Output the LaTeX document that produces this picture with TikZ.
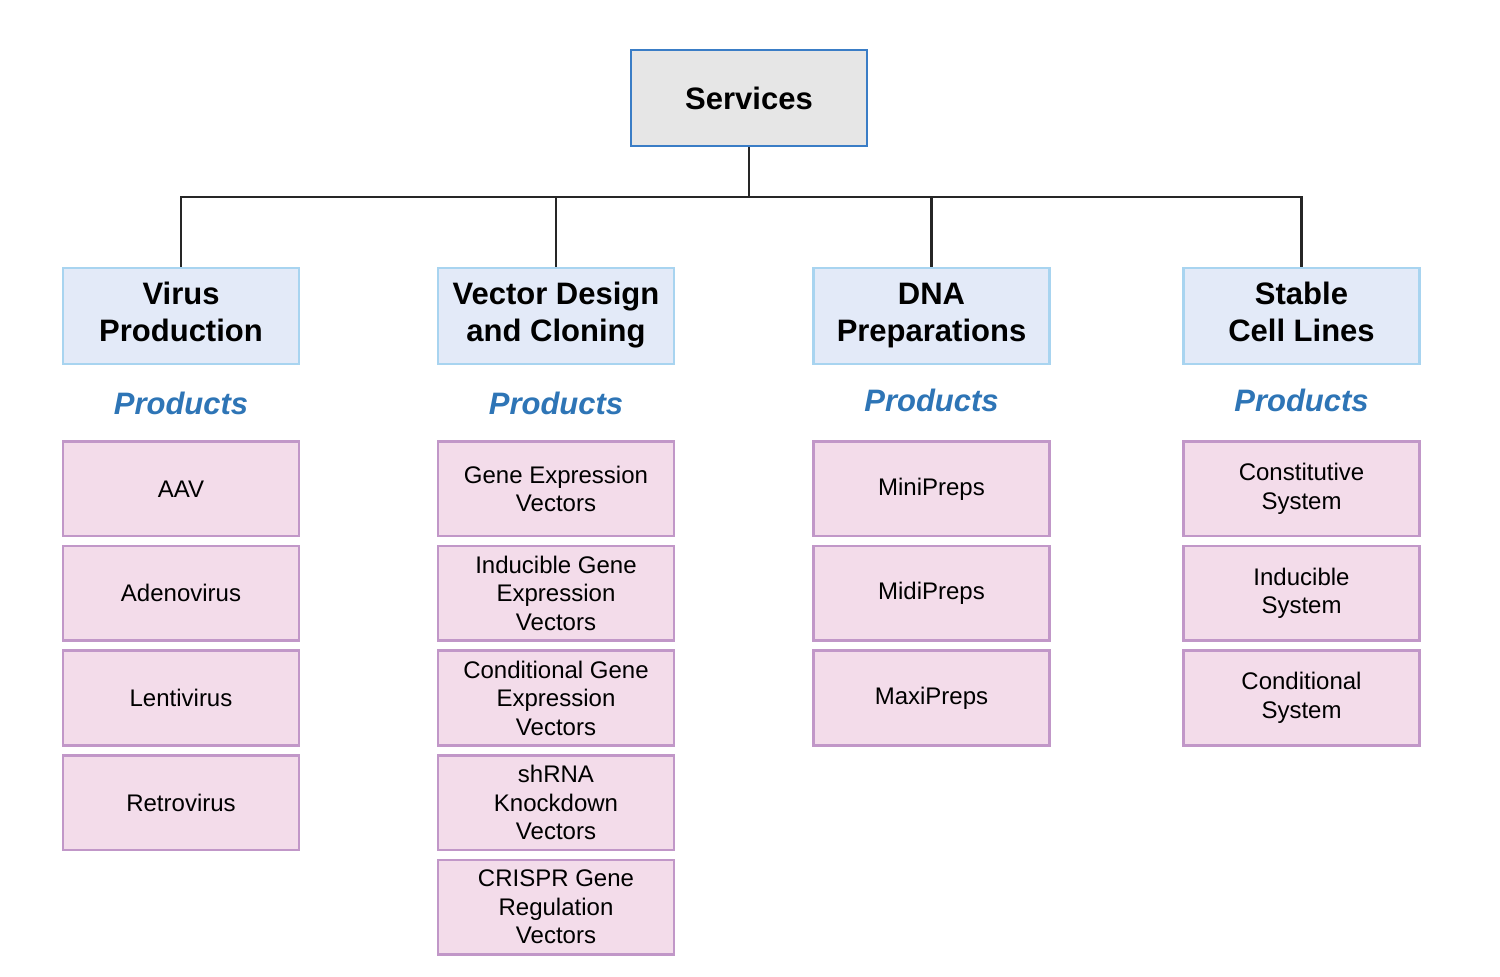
\documentclass[tikz,border=0pt]{standalone}
\usepackage{fontspec}
\setmainfont{Liberation Sans}
\usepackage{xcolor}
\usetikzlibrary{positioning}

\definecolor{srvfill}{HTML}{E6E6E6}
\definecolor{srvline}{HTML}{3A7DC6}
\definecolor{catfill}{HTML}{E3EAF8}
\definecolor{catline}{HTML}{A8D4F0}
\definecolor{itemfill}{HTML}{F3DCEA}
\definecolor{itemline}{HTML}{C197C8}
\definecolor{prodblue}{HTML}{2E75B6}

\begin{document}
\begin{tikzpicture}[
    x=1pt, y=1pt,
    node distance=7.5pt,
    top/.style={draw=srvline, fill=srvfill, line width=2.5pt, align=center, minimum width=236pt, minimum height=96pt, font=\fontsize{31}{37}\selectfont\bfseries},
    cat/.style={draw=catline, fill=catfill, line width=2.5pt, align=center, minimum width=236pt, minimum height=96pt, text depth=8pt, font=\fontsize{31}{37}\selectfont\bfseries},
    prodlabel/.style={text=prodblue, font=\fontsize{31}{37}\selectfont\bfseries\itshape},
    item/.style={draw=itemline, fill=itemfill, line width=2.5pt, align=center, minimum width=236pt, minimum height=94.6pt, font=\fontsize{24}{28.5}\selectfont},
    link/.style={draw=black!85, line width=2.8pt}
  ]
    \useasboundingbox (0,0) rectangle (1500,-977);

    \node[top] (services) at (749,-98) {Services};
    \coordinate (bus) at (749,-197);

    \node[cat] (virus) at (181,-316) {Virus\\Production};
    \node[cat] (vector) at (556,-316) {Vector Design\\and Cloning};
    \node[cat] (dna) at (931.5,-316) {DNA\\Preparations};
    \node[cat] (stable) at (1301.5,-316) {Stable\\Cell Lines};

    \node[prodlabel] (virusprod) at (181,-403) {Products};
    \node[prodlabel] (vectorprod) at (556,-403) {Products};
    \node[prodlabel] (dnaprod) at (931.5,-400) {Products};
    \node[prodlabel] (stableprod) at (1301.5,-400) {Products};

    % virus production
    \node[item, below=75pt of virus] (aav) {AAV};
    \node[item, below=of aav] (adeno) {Adenovirus};
    \node[item, below=of adeno] (lenti) {Lentivirus};
    \node[item, below=of lenti] (retro) {Retrovirus};

    % vector design and cloning
    \node[item, below=75pt of vector] (gev) {Gene Expression\\Vectors};
    \node[item, below=of gev] (igev) {Inducible Gene\\Expression\\Vectors};
    \node[item, below=of igev] (cgev) {Conditional Gene\\Expression\\Vectors};
    \node[item, below=of cgev] (shrna) {shRNA\\Knockdown\\Vectors};
    \node[item, below=of shrna] (crispr) {CRISPR Gene\\Regulation\\Vectors};

    % dna preparations
    \node[item, below=75pt of dna] (mini) {MiniPreps};
    \node[item, below=of mini] (midi) {MidiPreps};
    \node[item, below=of midi] (maxi) {MaxiPreps};

    % stable cell lines
    \node[item, below=75pt of stable] (const) {Constitutive\\System};
    \node[item, below=of const] (induc) {Inducible\\System};
    \node[item, below=of induc] (cond) {Conditional\\System};

    \draw[link] (services.south) -- (bus);
    \draw[link] (bus) -| (virus.north);
    \draw[link] (bus) -| (vector.north);
    \draw[link] (bus) -| (dna.north);
    \draw[link] (bus) -| (stable.north);
\end{tikzpicture}
\end{document}
